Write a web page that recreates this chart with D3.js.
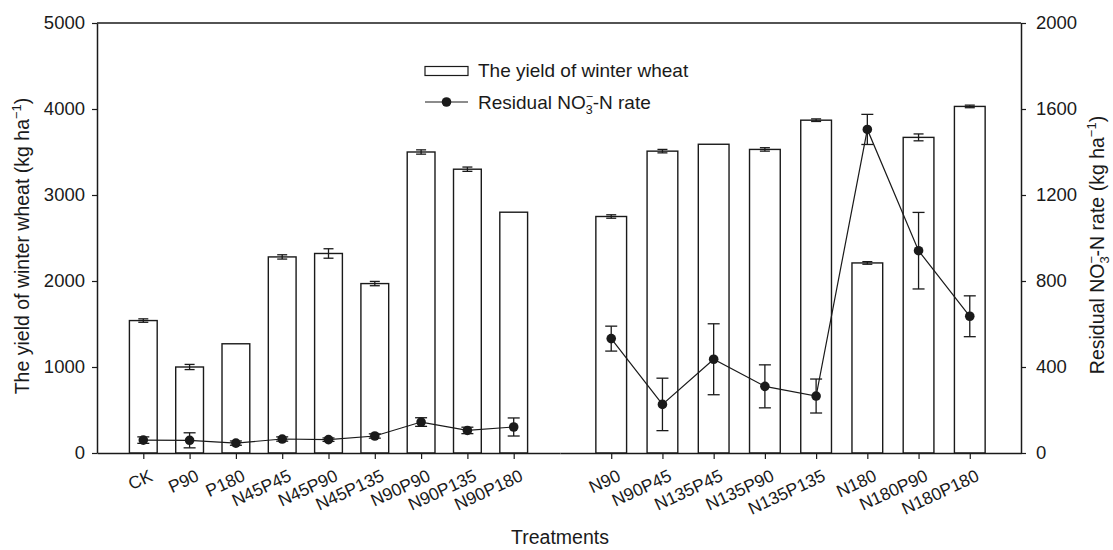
<!DOCTYPE html>
<html><head><meta charset="utf-8">
<script src="https://cdn.jsdelivr.net/npm/d3@7"></script>
<style>body{margin:0;background:#fff}svg{display:block}text{font-family:"Liberation Sans",Arial,sans-serif;fill:#1a1a1a}</style>
</head><body><svg id="c" width="1113" height="550"></svg>
<script>
const catsLeft = ["CK","P90","P180","N45P45","N45P90","N45P135","N90P90","N90P135","N90P180"];
const yieldLeft = [1540,1000,1270,2280,2320,1970,3500,3300,2800];
const yieldErrLeft = [20,30,0,25,55,25,25,25,0];
const no3Left = [60,59,46,65,62,79,144,105,121];
const no3ErrLeft = [15,35,10,10,8,10,20,15,42];
const catsRight = ["N90","N90P45","N135P45","N135P90","N135P135","N180","N180P90","N180P180"];
const yieldRight = [2750,3510,3590,3530,3870,2210,3670,4030];
const yieldErrRight = [20,20,0,20,15,15,40,15];
const no3Right = [532,226,436,310,265,1505,941,636];
const no3ErrRight = [58,122,165,100,79,70,178,95];
const yieldTicks = [0,1000,2000,3000,4000,5000];
const no3Ticks = [0,400,800,1200,1600,2000];

const svg = d3.select("#c");
const mTop = 23, mBottom = 453, mLeft = 97, mMid = 560, mRight = 1021;
const yY = d3.scaleLinear().domain([0,5000]).range([mBottom, mTop]);
const yN = d3.scaleLinear().domain([0,2000]).range([mBottom, mTop]);
const xL = d3.scaleLinear().domain([0,10]).range([mLeft, mMid]);
const xR = d3.scaleLinear().domain([0,9]).range([mMid, mRight]);
const bw = 0.6;
const ink = "#1a1a1a";

function panel(x, cats, yv, ye, nv, ne) {
  const g = svg.append("g");
  const idx = d3.range(cats.length);
  g.selectAll("rect.bar").data(idx).join("rect")
    .attr("x", i => x(i + 1 - bw/2)).attr("width", i => x(i + 1 + bw/2) - x(i + 1 - bw/2))
    .attr("y", i => yY(yv[i])).attr("height", i => yY(0) - yY(yv[i]))
    .attr("fill", "#fff").attr("stroke", ink).attr("stroke-width", 1.4);
  const be = idx.filter(i => ye[i] > 0);
  const eb = g.selectAll("g.be").data(be).join("g").attr("stroke", ink).attr("stroke-width", 1.3);
  eb.append("line").attr("x1", i => x(i+1)).attr("x2", i => x(i+1)).attr("y1", i => yY(yv[i]+ye[i])).attr("y2", i => yY(yv[i]-ye[i]));
  eb.append("line").attr("x1", i => x(i+1)-5).attr("x2", i => x(i+1)+5).attr("y1", i => yY(yv[i]+ye[i])).attr("y2", i => yY(yv[i]+ye[i]));
  eb.append("line").attr("x1", i => x(i+1)-5).attr("x2", i => x(i+1)+5).attr("y1", i => yY(yv[i]-ye[i])).attr("y2", i => yY(yv[i]-ye[i]));
  g.append("path").datum(idx).attr("fill","none").attr("stroke", ink).attr("stroke-width", 1.2)
    .attr("d", d3.line().x(i => x(i+1)).y(i => yN(nv[i])));
  const ng = g.selectAll("g.ne").data(idx).join("g").attr("stroke", ink).attr("stroke-width", 1.3);
  ng.append("line").attr("x1", i => x(i+1)).attr("x2", i => x(i+1)).attr("y1", i => yN(nv[i]+ne[i])).attr("y2", i => yN(nv[i]-ne[i]));
  ng.append("line").attr("x1", i => x(i+1)-6).attr("x2", i => x(i+1)+6).attr("y1", i => yN(nv[i]+ne[i])).attr("y2", i => yN(nv[i]+ne[i]));
  ng.append("line").attr("x1", i => x(i+1)-6).attr("x2", i => x(i+1)+6).attr("y1", i => yN(nv[i]-ne[i])).attr("y2", i => yN(nv[i]-ne[i]));
  g.selectAll("circle").data(idx).join("circle")
    .attr("cx", i => x(i+1)).attr("cy", i => yN(nv[i])).attr("r", 4.8).attr("fill", ink);
  const ax = svg.append("g").attr("transform", `translate(0,${mBottom})`)
    .call(d3.axisBottom(x).tickValues(d3.range(1, cats.length+1)).tickFormat(i => cats[i-1]).tickSize(6).tickSizeOuter(0));
  ax.select(".domain").attr("stroke", ink).attr("stroke-width", 1.5);
  ax.selectAll(".tick line").attr("stroke", ink).attr("stroke-width", 1.2);
  ax.selectAll(".tick text").attr("font-size", 17.5).attr("fill", ink)
    .attr("text-anchor", "end").attr("dy", 0).attr("y", 0)
    .attr("transform", "translate(10,27) rotate(-25)");
  svg.append("line").attr("x1", x.range()[0]).attr("x2", x.range()[1]).attr("y1", mTop).attr("y2", mTop)
    .attr("stroke", ink).attr("stroke-width", 1.5);
}
panel(xL, catsLeft, yieldLeft, yieldErrLeft, no3Left, no3ErrLeft);
panel(xR, catsRight, yieldRight, yieldErrRight, no3Right, no3ErrRight);

const ay = svg.append("g").attr("transform", `translate(${mLeft},0)`)
  .call(d3.axisLeft(yY).tickValues(yieldTicks).tickFormat(d3.format("d")).tickSize(5).tickSizeOuter(0));
const ayr = svg.append("g").attr("transform", `translate(${mRight},0)`)
  .call(d3.axisRight(yN).tickValues(no3Ticks).tickFormat(d3.format("d")).tickSize(5).tickSizeOuter(0));
[ay, ayr].forEach(a => {
  a.select(".domain").attr("stroke", ink).attr("stroke-width", 1.5);
  a.selectAll(".tick line").attr("stroke", ink).attr("stroke-width", 1.2);
  a.selectAll(".tick text").attr("font-size", 18.5).attr("fill", ink);
});
ay.selectAll(".tick text").attr("x", -12);
ayr.selectAll(".tick text").attr("x", 15);

svg.append("text").attr("x", 560).attr("y", 544).attr("text-anchor", "middle").attr("font-size", 19.5).text("Treatments");
const lt = svg.append("text").attr("transform", "translate(29,246) rotate(-90)").attr("text-anchor", "middle").attr("font-size", 19.5);
lt.append("tspan").text("The yield of winter wheat (kg ha");
lt.append("tspan").attr("font-size", 13).attr("dy", -8).text("−1");
lt.append("tspan").attr("dy", 8).text(")");
const rt = svg.append("text").attr("transform", "translate(1104,245) rotate(-90)").attr("text-anchor", "middle").attr("font-size", 19.5);
rt.append("tspan").text("Residual NO");
rt.append("tspan").attr("font-size", 13).attr("dy", -8).text("−");
rt.append("tspan").attr("font-size", 13).attr("dx", -7.6).attr("dy", 13).text("3");
rt.append("tspan").attr("dy", -5).text("-N rate (kg ha");
rt.append("tspan").attr("font-size", 13).attr("dy", -8).text("−1");
rt.append("tspan").attr("dy", 8).text(")");

svg.append("rect").attr("x", 425).attr("y", 66.5).attr("width", 43).attr("height", 9)
  .attr("fill", "#fff").attr("stroke", ink).attr("stroke-width", 1.2);
svg.append("text").attr("x", 478).attr("y", 77).attr("font-size", 19).text("The yield of winter wheat");
svg.append("line").attr("x1", 425).attr("x2", 468).attr("y1", 102).attr("y2", 102).attr("stroke", ink).attr("stroke-width", 1.2);
svg.append("circle").attr("cx", 446.5).attr("cy", 102).attr("r", 4.8).attr("fill", ink);
const l2 = svg.append("text").attr("x", 478).attr("y", 108.5).attr("font-size", 19);
l2.append("tspan").text("Residual NO");
l2.append("tspan").attr("font-size", 12.5).attr("dy", -8).text("−");
l2.append("tspan").attr("font-size", 12.5).attr("dx", -7.3).attr("dy", 13).text("3");
l2.append("tspan").attr("dy", -5).text("-N rate");
</script></body></html>
